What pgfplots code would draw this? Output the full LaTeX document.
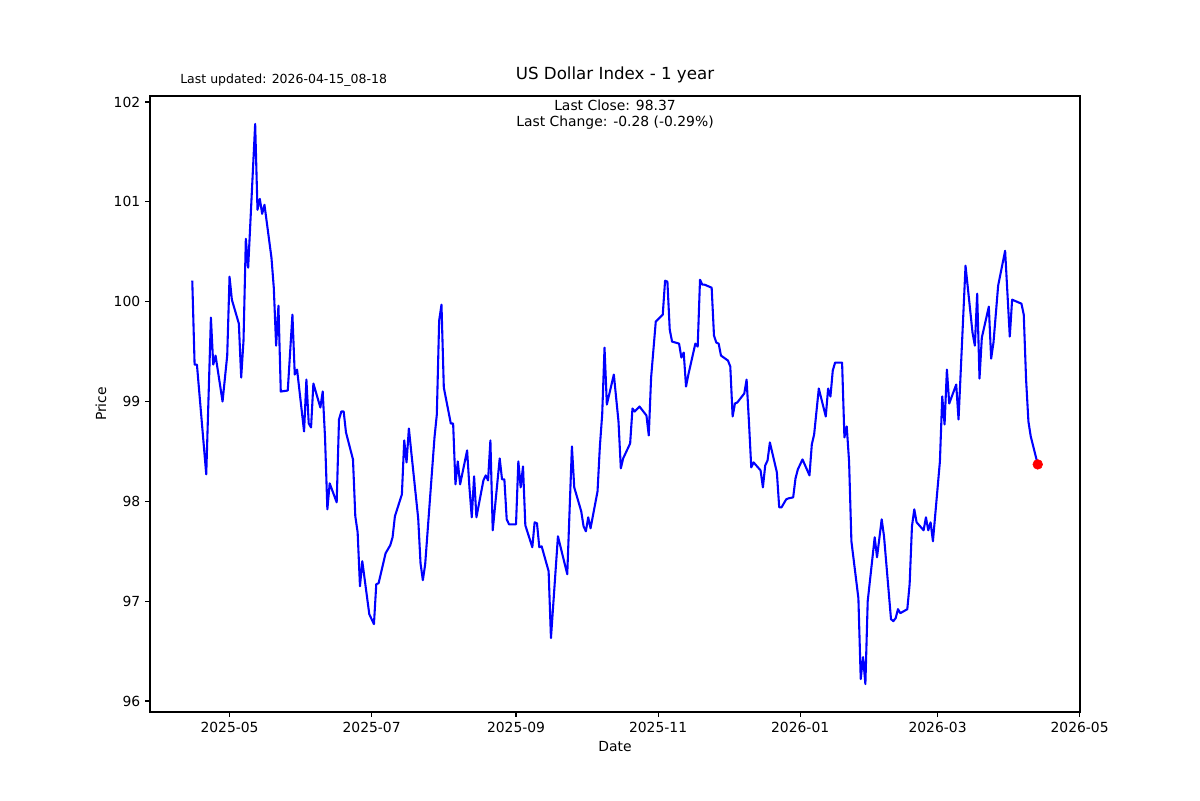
\documentclass[border=0pt]{standalone}
\usepackage{fontspec}
\setmainfont{DejaVu Sans}
\usepackage{pgfplots}
\pgfplotsset{compat=1.18}
% x = days since 2025-05-01
\pgfplotstableread{
d p
-16 100.21
-15 99.37
-14 99.37
-10 98.27
-8 99.84
-7 99.37
-6 99.46
-3 99.00
-1 99.46
0 100.25
1 100.02
4 99.78
5 99.24
6 99.61
7 100.63
8 100.34
11 101.78
12 100.92
13 101.03
14 100.88
15 100.97
18 100.44
19 100.14
20 99.56
21 99.96
22 99.10
25 99.11
27 99.87
28 99.27
29 99.32
32 98.70
33 99.22
34 98.78
35 98.74
36 99.18
39 98.94
40 99.10
41 98.64
42 97.92
43 98.18
46 97.99
47 98.82
48 98.90
49 98.90
50 98.69
53 98.42
54 97.85
55 97.69
56 97.15
57 97.40
60 96.87
61 96.82
62 96.77
63 97.17
64 97.18
67 97.48
69 97.56
70 97.64
71 97.85
74 98.07
75 98.61
76 98.39
77 98.73
78 98.50
81 97.83
82 97.38
83 97.21
84 97.37
88 98.64
89 98.87
90 99.81
91 99.97
92 99.14
95 98.78
96 98.78
97 98.17
98 98.40
99 98.17
102 98.51
103 98.14
104 97.84
105 98.25
106 97.84
109 98.21
110 98.26
111 98.21
112 98.61
113 97.71
116 98.43
117 98.22
118 98.22
119 97.82
120 97.77
123 97.77
124 98.40
125 98.14
126 98.35
127 97.76
130 97.54
131 97.79
132 97.78
133 97.54
134 97.55
137 97.30
138 96.63
141 97.65
145 97.27
147 98.55
148 98.14
151 97.90
152 97.75
153 97.70
154 97.84
155 97.73
158 98.10
159 98.55
160 98.87
161 99.54
162 98.97
165 99.27
167 98.80
168 98.33
169 98.43
172 98.58
173 98.93
174 98.90
176 98.95
179 98.86
180 98.66
181 99.24
183 99.80
186 99.87
187 100.21
188 100.20
189 99.72
190 99.60
193 99.58
194 99.44
195 99.49
196 99.15
197 99.27
200 99.58
201 99.55
202 100.22
203 100.17
204 100.17
207 100.14
208 99.66
209 99.59
210 99.58
211 99.46
214 99.41
215 99.35
216 98.85
217 98.98
218 98.99
221 99.08
222 99.22
223 98.80
224 98.34
225 98.39
228 98.31
229 98.14
230 98.36
231 98.41
232 98.59
235 98.29
236 97.94
237 97.94
239 98.02
240 98.03
242 98.04
243 98.23
244 98.32
246 98.42
249 98.26
250 98.57
251 98.67
253 99.13
256 98.85
257 99.13
258 99.05
259 99.31
260 99.39
263 99.39
264 98.64
265 98.75
266 98.40
267 97.60
270 97.03
271 96.22
272 96.44
273 96.17
274 97.00
277 97.64
278 97.44
280 97.82
281 97.65
284 96.82
285 96.80
286 96.83
287 96.92
288 96.88
291 96.92
292 97.17
293 97.75
294 97.92
295 97.79
298 97.71
299 97.84
300 97.71
301 97.79
302 97.60
305 98.40
306 99.05
307 98.77
308 99.32
309 98.98
312 99.17
313 98.82
316 100.36
319 99.69
320 99.56
321 100.08
322 99.23
323 99.64
326 99.95
327 99.43
328 99.59
330 100.16
333 100.51
335 99.65
336 100.02
340 99.98
341 99.87
342 99.22
343 98.80
344 98.65
347 98.37
}\dxy
\begin{document}
\begin{tikzpicture}
\path[use as bounding box] (0pt,0pt) rectangle (864pt,576pt);
\begin{axis}[
  at={(108pt,63.36pt)}, anchor=south west,
  scale only axis, width=669.6pt, height=443.52pt,
  xmin=-34.15, xmax=365.15, ymin=95.89, ymax=102.06,
  xtick={0,61,123,184,245,304,365},
  xticklabels={2025-05,2025-07,2025-09,2025-11,2026-01,2026-03,2026-05},
  ytick={96,97,98,99,100,101,102},
  /pgf/number format/assume math mode=true,
  tick label style={font=\fontsize{10}{12}\selectfont},
  tick align=outside, major tick length=3.5pt,
  every tick/.style={black, line width=0.8pt},
  axis line style={line width=0.8pt},
  xtick pos=bottom, ytick pos=left,
  title={US Dollar Index - 1 year},
  title style={font=\fontsize{12}{14}\selectfont, at={(axis description cs:0.5,1)}, anchor=base, yshift=6pt},
  xlabel={Date}, ylabel={Price},
  label style={font=\fontsize{10}{12}\selectfont},
  every axis x label/.style={at={(axis description cs:0.5,-0.0568)}, anchor=center},
  every axis y label/.style={at={(axis description cs:-0.0527,0.5)}, anchor=center, rotate=90},
]
\addplot[blue, line width=1.5pt, line join=round] table[x=d, y=p] {\dxy};
\addplot[only marks, mark=*, mark size=3.5pt, color=red, fill=red] coordinates {(347,98.37)};
\end{axis}
\node[anchor=base west, font=\fontsize{9}{11}\selectfont, inner sep=0pt] at (129.6pt,516.2pt) {Last updated: 2026-04-15\_08-18};
\node[anchor=base, font=\fontsize{10}{12}\selectfont, inner sep=0pt] at (442.8pt,496.1pt) {Last Close: 98.37};
\node[anchor=base, font=\fontsize{10}{12}\selectfont, inner sep=0pt] at (442.8pt,484.6pt) {Last Change: -0.28 (-0.29\%)};
\end{tikzpicture}
\end{document}
